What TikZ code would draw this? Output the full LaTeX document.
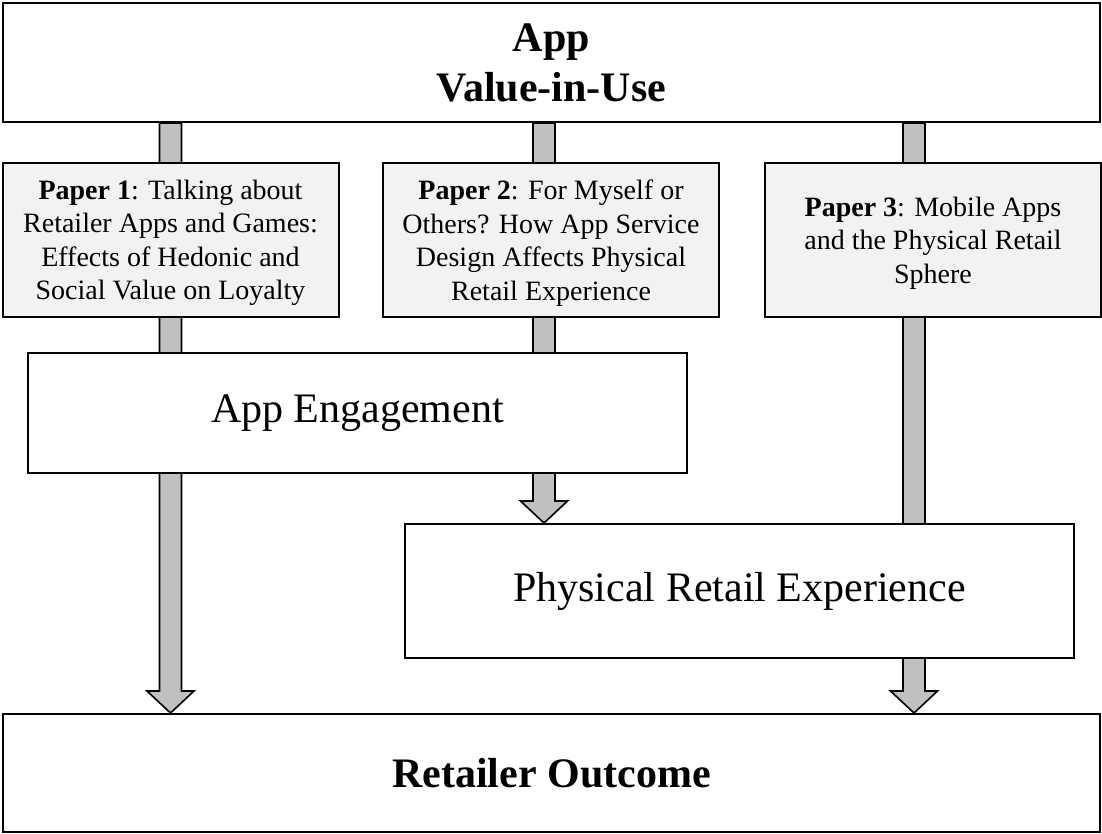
\documentclass[tikz,border=0pt]{standalone}
\usepackage{fontspec}
\setmainfont{Liberation Serif}
\usetikzlibrary{calc}
\usetikzlibrary{backgrounds}
\definecolor{shaft}{RGB}{192,192,192}
\definecolor{paperbg}{RGB}{242,242,242}

\begin{document}
\begin{tikzpicture}[
    x=1pt, y=-1pt,
    b/.style={
        draw=black, fill=white, line width=2pt,
        inner sep=0pt, align=center
    },
    p/.style={
        b, fill=paperbg, minimum width=336pt, minimum height=154pt,
        text depth=0pt,
        font=\fontsize{28}{33.5}\selectfont
    },
    fat/.style={
        draw=black, fill=shaft, line width=1.6pt, line join=miter
    }
]

    \useasboundingbox (0,0) rectangle (1102,834);

    \coordinate (s1) at (170.5,0);
    \coordinate (s2) at (544,0);
    \coordinate (s3) at (914,0);

    \node [b,minimum width=1097pt,minimum height=119pt,
           font=\fontsize{42}{50}\selectfont\bfseries] (top) at (551.5,62.5) {App\\Value-in-Use};
    \node [b,minimum width=1097pt,minimum height=118pt,
           font=\fontsize{42}{50}\selectfont\bfseries] (out) at (551.5,773) {Retailer Outcome};

    \node [p] (p1) at (170.5,240) {\textbf{Paper 1}: Talking about\\Retailer Apps and Games:\\Effects of Hedonic and\\Social Value on Loyalty};
    \node [p] (p2) at (551,240) {\textbf{Paper 2}: For Myself or\\Others? How App Service\\Design Affects Physical\\Retail Experience};
    \node [p] (p3) at (933,240) {\textbf{Paper 3}: Mobile Apps\\and the Physical Retail\\Sphere};

    \node [b,minimum width=659pt,minimum height=120pt,
           font=\fontsize{42}{50}\selectfont] (eng) at (357.5,413) {App Engagement};
    \node [b,minimum width=669pt,minimum height=134pt,
           font=\fontsize{42}{50}\selectfont] (pre) at (739.5,591) {Physical Retail Experience};

    % broad arrows behind the boxes
    \begin{scope}[on background layer]
    \foreach \s/\a/\t in {s1/top/out, s2/top/pre, s3/top/out} {
        \draw [fat] ($(\a.south -| \s)+(-11,0)$)
            -- ($(\t.north -| \s)+(-11,-22)$) -- ++(-12.5,0)
            -- (\t.north -| \s)
            -- ++(23.5,-22) -- ++(-12.5,0)
            -- ($(\a.south -| \s)+(11,0)$) -- cycle;
    }
    \end{scope}

\end{tikzpicture}
\end{document}
